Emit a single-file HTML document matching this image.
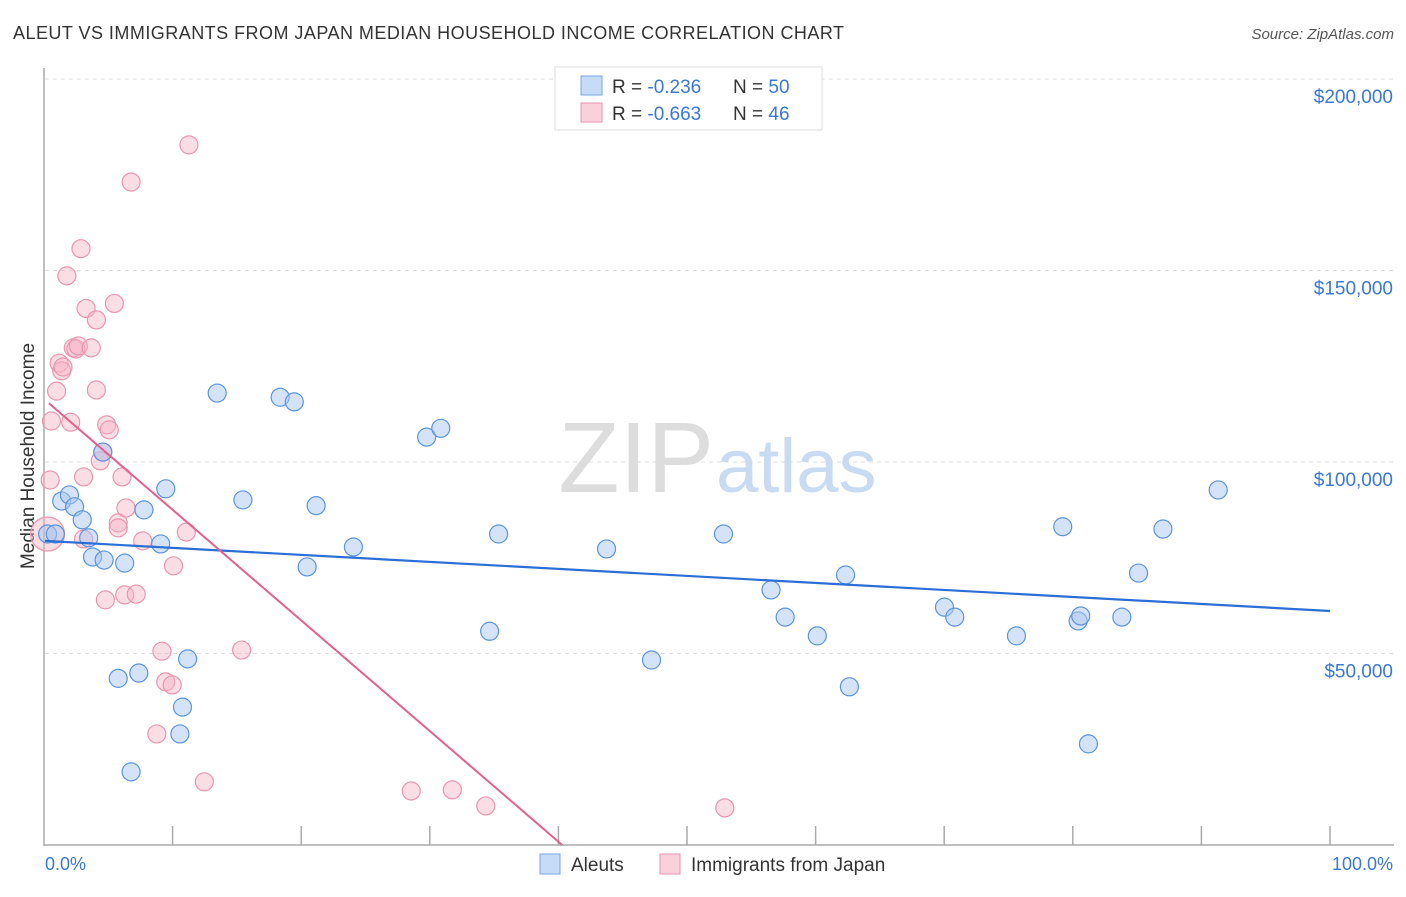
<!DOCTYPE html>
<html><head><meta charset="utf-8"><style>
body{margin:0;background:#fff;font-family:"Liberation Sans",sans-serif;}
svg text{font-family:"Liberation Sans",sans-serif;}
</style></head><body>
<svg id="chart" width="1406" height="892" xmlns="http://www.w3.org/2000/svg">
<text x="13" y="39" font-size="18" fill="#333" textLength="831">ALEUT VS IMMIGRANTS FROM JAPAN MEDIAN HOUSEHOLD INCOME CORRELATION CHART</text>
<text x="1394" y="39" font-size="15" fill="#555" font-style="italic" text-anchor="end">Source: ZipAtlas.com</text>
<g id="grid"></g>
<text x="714" y="492" font-size="100" fill="#ddd" text-anchor="end" font-family="Liberation Serif">ZIP</text>
<text x="716" y="492" font-size="76" fill="#c9dbf2">atlas</text>
<line x1="44" y1="68" x2="44" y2="846" stroke="#aaa" stroke-width="1.5"/>
<line x1="44" y1="845" x2="1394" y2="845" stroke="#aaa" stroke-width="1.5"/>
<g id="ticks"></g>
<text x="34" y="456" font-size="19" fill="#333" text-anchor="middle" transform="rotate(-90 34 456)">Median Household Income</text>
<text x="45" y="870" font-size="18" fill="#3a78d4">0.0%</text>
<text x="1393" y="870" font-size="18" fill="#3a78d4" text-anchor="end">100.0%</text>
<g id="pts"></g>
<g id="lines"></g>
<g>
<rect x="555" y="67" width="267" height="63" fill="#fff" stroke="#ddd"/>
<rect x="581" y="76" width="21" height="19" fill="#c6dbf7" stroke="#7aa7e0"/>
<text x="612" y="93" font-size="19" fill="#333">R = <tspan fill="#3a78d4">-0.236</tspan></text>
<text x="733" y="93" font-size="19" fill="#333">N = <tspan fill="#3a78d4">50</tspan></text>
<rect x="581" y="103" width="21" height="19" fill="#fad0dc" stroke="#e996b0"/>
<text x="612" y="120" font-size="19" fill="#333">R = <tspan fill="#3a78d4">-0.663</tspan></text>
<text x="733" y="120" font-size="19" fill="#333">N = <tspan fill="#3a78d4">46</tspan></text>
</g>
<g>
<rect x="540" y="854" width="20" height="20" fill="#c6dbf7" stroke="#7aa7e0"/>
<text x="571" y="871" font-size="19" fill="#333">Aleuts</text>
<rect x="660" y="854" width="20" height="20" fill="#fad0dc" stroke="#e996b0"/>
<text x="691" y="871" font-size="19" fill="#333">Immigrants from Japan</text>
</g>
</svg>
<script>
const yTicks=[50000,100000,150000,200000];
const yTickLabels=["$50,000","$100,000","$150,000","$200,000"];
const blueX=[0.2,0.8,1.3,1.9,2.3,2.9,3.4,3.7,4.6,6.2,4.5,7.7,9.0,9.4,5.7,7.3,10.7,10.5,11.1,6.7,13.4,15.4,18.3,19.4,21.1,20.4,24.0,29.7,30.8,34.6,35.3,43.7,47.2,52.8,56.5,57.6,60.1,62.3,62.6,70.0,70.8,75.6,79.2,80.4,80.6,81.2,83.8,85.1,87.0,91.3];
const blueY=[81.2,81.2,89.8,91.4,88.3,84.9,80.2,75.2,74.4,73.6,102.6,87.5,78.6,93.0,43.5,44.9,36.0,29.0,48.6,19.1,118.0,90.1,116.9,115.7,88.6,72.6,77.8,106.5,108.8,55.8,81.2,77.3,48.3,81.2,66.6,59.5,54.6,70.5,41.3,62.1,59.5,54.6,83.1,58.5,59.8,26.4,59.5,71.0,82.5,92.7];
const pinkX=[0.2,0.4,0.5,0.9,1.1,1.3,1.4,1.7,2.0,2.2,2.4,2.6,2.8,3.0,3.2,3.6,4.0,4.0,4.3,4.5,4.8,5.0,4.7,5.4,5.7,6.0,6.2,6.3,6.7,7.1,7.6,9.1,9.4,9.9,10.0,8.7,11.0,11.2,12.4,15.3,28.5,31.7,34.3,52.9,5.7,3.0];
const pinkY=[81.2,95.3,110.7,118.5,125.8,123.8,124.8,148.6,110.4,129.8,129.5,130.3,155.7,96.1,140.1,129.8,118.8,137.1,100.3,102.6,109.7,108.4,64.0,141.4,84.1,96.1,65.3,88.0,173.1,65.5,79.4,50.6,42.6,41.8,72.9,29.0,81.7,182.8,16.5,50.9,14.1,14.4,10.2,9.7,82.8,79.9];
const blueLine=[79.4,61.1];
const pinkLine=[116.2,-2.887];
const NS='http://www.w3.org/2000/svg';
const sx=p=>45+p*12.85;
const sy=v=>845-v*766/200000;
const mk=(t,a)=>{const e=document.createElementNS(NS,t);for(const k in a)e.setAttribute(k,a[k]);return e;};
const grid=document.getElementById('grid');
yTicks.forEach((v,i)=>{
 const l=mk('line',{x1:45,x2:1394,y1:sy(v),y2:sy(v),stroke:'#ddd','stroke-dasharray':'4,4'});
 
 
 grid.appendChild(l);
 const t=mk('text',{x:1393,y:sy(v)+24,'font-size':19,fill:'#3a78d4','text-anchor':'end'});
 t.textContent=yTickLabels[i];
 
 
 grid.appendChild(t);
});
const ticks=document.getElementById('ticks');
for(let k=1;k<=10;k++){const l=mk('line',{x1:44+128.6*k,x2:44+128.6*k,y1:826,y2:845,stroke:'#aaa','stroke-width':1.5});
 
 
 ticks.appendChild(l);}
const pts=document.getElementById('pts');
pinkX.forEach((x,i)=>{const c=mk('circle',{cx:sx(x),cy:sy(pinkY[i]*1000),r:i==0?17:9,fill:'rgba(247,180,200,0.45)',stroke:'#e996b0','stroke-width':1.2});
 
 
 pts.appendChild(c);});
blueX.forEach((x,i)=>{const c=mk('circle',{cx:sx(x),cy:sy(blueY[i]*1000),r:9,fill:'rgba(170,200,240,0.5)',stroke:'#5b95dc','stroke-width':1.2});
 
 
 pts.appendChild(c);});
const lines=document.getElementById('lines');
const bl=mk('line',{x1:sx(0),y1:sy(blueLine[0]*1000),x2:sx(100),y2:sy(blueLine[1]*1000),stroke:'#2b6fd6','stroke-width':2.2});


lines.appendChild(bl);
const xEnd=-pinkLine[0]/pinkLine[1];
const pl=mk('line',{x1:sx(0.3),y1:sy((pinkLine[0]+pinkLine[1]*0.3)*1000),x2:sx(xEnd),y2:sy(0),stroke:'#e5608e','stroke-width':2});


lines.appendChild(pl);
</script>
</body></html>
